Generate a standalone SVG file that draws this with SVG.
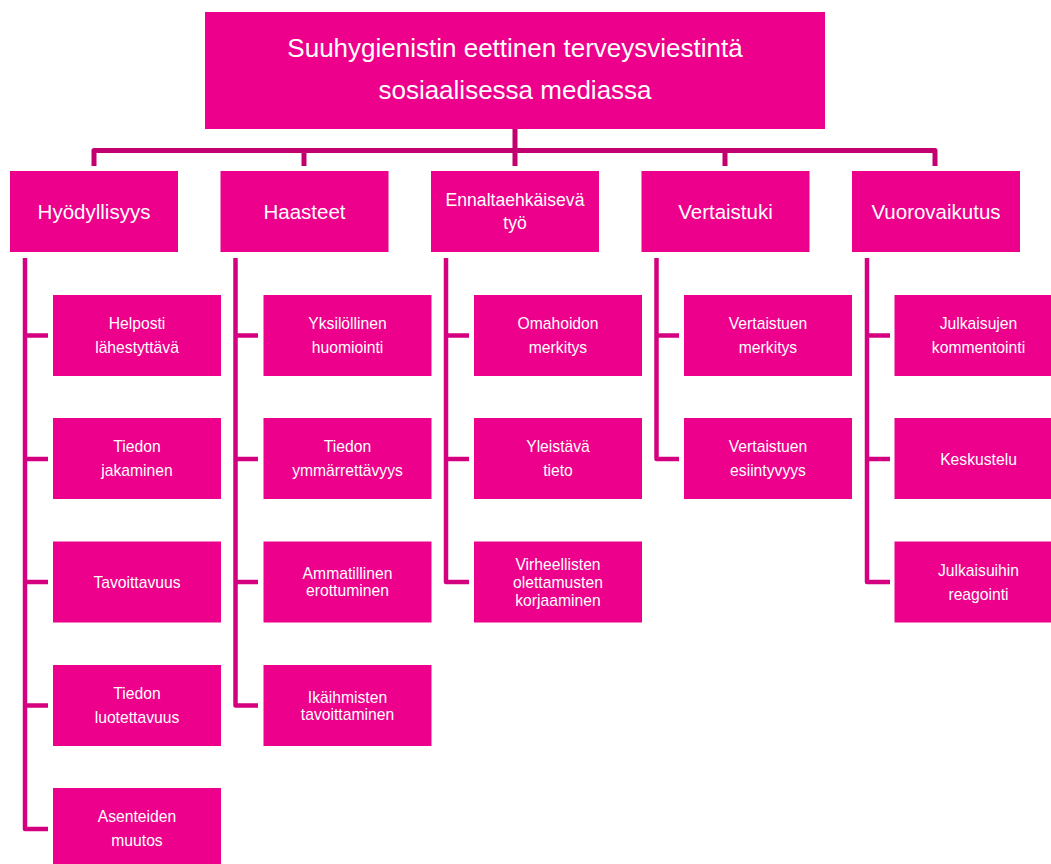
<svg xmlns="http://www.w3.org/2000/svg" width="1051" height="864" viewBox="0 0 1051 864">
<style>
.box{fill:#EC008C;}
.t{fill:#fff;font-family:"Liberation Sans",Arial,sans-serif;text-anchor:middle;}
.root{font-size:26px;}
.l1{font-size:20.5px;}
.l1s{font-size:17.6px;}
.c{font-size:15.7px;}
.top{fill:none;stroke:#C2006F;stroke-width:5;stroke-linejoin:round;}
.spine{fill:none;stroke:#D5007F;stroke-width:4.5;stroke-linejoin:round;}
</style>
<rect width="1051" height="864" fill="#fff"/>
<g id="connectors">
<path class="top" d="M94,166 V150.5 H935 V166"/>
<path class="top" d="M304,150.5 V166 M515,129 V166 M725,150.5 V166"/>
<path class="spine" d="M25,258 V829 H48 M25,335.5 H48 M25,459 H48 M25,582 H48 M25,705.5 H48"/>
<path class="spine" d="M235.5,258 V705.5 H258 M235.5,335.5 H258 M235.5,459 H258 M235.5,582 H258"/>
<path class="spine" d="M446,258 V582 H469 M446,335.5 H469 M446,459 H469"/>
<path class="spine" d="M656.5,258 V459 H679 M656.5,335.5 H679"/>
<path class="spine" d="M867,258 V582 H890 M867,335.5 H890 M867,459 H890"/>
</g>
<g id="root"><rect class="box" x="205" y="12" width="620" height="117"/>
<text class="t root" x="515" y="57">Suuhygienistin eettinen terveysviestintä</text>
<text class="t root" x="515" y="99">sosiaalisessa mediassa</text></g>

<g id="n-hyodyllisyys"><rect class="box" x="10" y="171" width="168" height="81"/><text class="t l1" x="94" y="219">Hyödyllisyys</text></g>
<g id="n-haasteet"><rect class="box" x="220.5" y="171" width="168" height="81"/><text class="t l1" x="304.5" y="219">Haasteet</text></g>
<g id="n-ennalta"><rect class="box" x="431" y="171" width="168" height="81"/><text class="t l1s" x="515" y="206">Ennaltaehkäisevä</text><text class="t l1s" x="515" y="229">työ</text></g>
<g id="n-vertaistuki"><rect class="box" x="641.5" y="171" width="168" height="81"/><text class="t l1" x="725.5" y="219">Vertaistuki</text></g>
<g id="n-vuorovaikutus"><rect class="box" x="852" y="171" width="168" height="81"/><text class="t l1" x="936" y="219">Vuorovaikutus</text></g>

<g id="c1-1"><rect class="box" x="53" y="295" width="168" height="81"/><text class="t c" x="137" y="328.5">Helposti</text><text class="t c" x="137" y="353">lähestyttävä</text></g>
<g id="c1-2"><rect class="box" x="53" y="418" width="168" height="81"/><text class="t c" x="137" y="452">Tiedon</text><text class="t c" x="137" y="476">jakaminen</text></g>
<g id="c1-3"><rect class="box" x="53" y="541.5" width="168" height="81"/><text class="t c" x="137" y="587.5">Tavoittavuus</text></g>
<g id="c1-4"><rect class="box" x="53" y="665" width="168" height="81"/><text class="t c" x="137" y="698.5">Tiedon</text><text class="t c" x="137" y="722.5">luotettavuus</text></g>
<g id="c1-5"><rect class="box" x="53" y="788" width="168" height="81"/><text class="t c" x="137" y="822">Asenteiden</text><text class="t c" x="137" y="846">muutos</text></g>

<g id="c2-1"><rect class="box" x="263.5" y="295" width="168" height="81"/><text class="t c" x="347.5" y="328.5">Yksilöllinen</text><text class="t c" x="347.5" y="353">huomiointi</text></g>
<g id="c2-2"><rect class="box" x="263.5" y="418" width="168" height="81"/><text class="t c" x="347.5" y="452">Tiedon</text><text class="t c" x="347.5" y="476">ymmärrettävyys</text></g>
<g id="c2-3"><rect class="box" x="263.5" y="541.5" width="168" height="81"/><text class="t c" x="347.5" y="578.5">Ammatillinen</text><text class="t c" x="347.5" y="595.5">erottuminen</text></g>
<g id="c2-4"><rect class="box" x="263.5" y="665" width="168" height="81"/><text class="t c" x="347.5" y="702.5">Ikäihmisten</text><text class="t c" x="347.5" y="719.5">tavoittaminen</text></g>

<g id="c3-1"><rect class="box" x="474" y="295" width="168" height="81"/><text class="t c" x="558" y="328.5">Omahoidon</text><text class="t c" x="558" y="353">merkitys</text></g>
<g id="c3-2"><rect class="box" x="474" y="418" width="168" height="81"/><text class="t c" x="558" y="452">Yleistävä</text><text class="t c" x="558" y="476">tieto</text></g>
<g id="c3-3"><rect class="box" x="474" y="541.5" width="168" height="81"/><text class="t c" x="558" y="569.5">Virheellisten</text><text class="t c" x="558" y="587.5">olettamusten</text><text class="t c" x="558" y="605.5">korjaaminen</text></g>

<g id="c4-1"><rect class="box" x="684" y="295" width="168" height="81"/><text class="t c" x="768" y="328.5">Vertaistuen</text><text class="t c" x="768" y="353">merkitys</text></g>
<g id="c4-2"><rect class="box" x="684" y="418" width="168" height="81"/><text class="t c" x="768" y="452">Vertaistuen</text><text class="t c" x="768" y="476">esiintyvyys</text></g>

<g id="c5-1"><rect class="box" x="894.5" y="295" width="168" height="81"/><text class="t c" x="978.5" y="328.5">Julkaisujen</text><text class="t c" x="978.5" y="353">kommentointi</text></g>
<g id="c5-2"><rect class="box" x="894.5" y="418" width="168" height="81"/><text class="t c" x="978.5" y="464.5">Keskustelu</text></g>
<g id="c5-3"><rect class="box" x="894.5" y="541.5" width="168" height="81"/><text class="t c" x="978.5" y="575.5">Julkaisuihin</text><text class="t c" x="978.5" y="599.5">reagointi</text></g>
</svg>
